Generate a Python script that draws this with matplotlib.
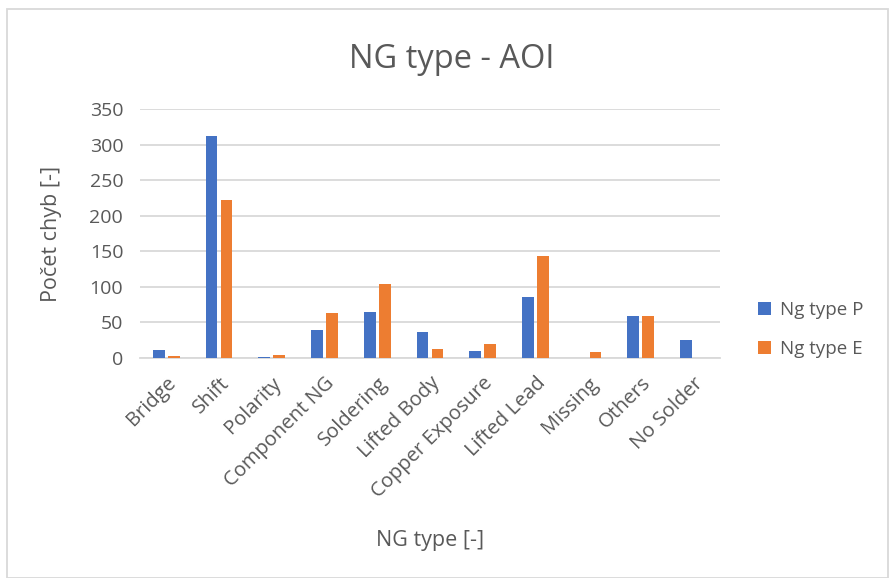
import matplotlib.pyplot as plt
import numpy as np
from matplotlib.patches import Rectangle

# data
categories = ["Bridge", "Shift", "Polarity", "Component NG", "Soldering",
              "Lifted Body", "Copper Exposure", "Lifted Lead", "Missing",
              "Others", "No Solder"]
ng_type_p = [11, 312, 1, 39, 65, 36, 10, 86, 0, 59, 25]
ng_type_e = [3, 222, 4, 63, 104, 13, 19, 143, 9, 59, 0]

plt.rcParams['font.family'] = ['Open Sans', 'DejaVu Sans']
gray = "#595959"
grid = "#D9D9D9"

fig = plt.figure(figsize=(8.91, 5.78), dpi=100)
ax = fig.add_axes([0.157, 0.3806, 0.651, 0.4308])

x = np.arange(len(categories))
w = 0.222
off = 0.1425
ax.bar(x - off, ng_type_p, w, color="#4472C4", label="Ng type P", zorder=3)
ax.bar(x + off, ng_type_e, w, color="#ED7D31", label="Ng type E", zorder=3)

ax.set_xlim(-0.5, len(categories) - 0.5)
ax.set_ylim(0, 350)
ax.set_yticks(range(0, 351, 50))
ax.yaxis.grid(True, color=grid, linewidth=1.3, zorder=0)
ax.set_xticks(x)
ax.set_xticklabels(categories, rotation=45, ha='right', rotation_mode='anchor')
ax.tick_params(length=0, labelsize=14, colors=gray)
ax.tick_params(axis='x', labelsize=14.5, pad=11)
ax.tick_params(axis='y', pad=12)
for s in ["top", "right", "left"]:
    ax.spines[s].set_visible(False)
ax.spines["bottom"].set_color(grid)
ax.spines["bottom"].set_linewidth(1.3)

ax.set_ylabel("Počet chyb [-]", fontsize=15.5, color=gray)
ax.yaxis.set_label_coords(-0.135, 0.5)
ax.set_xlabel("NG type [-]", fontsize=15.5, color=gray)
ax.xaxis.set_label_coords(0.5, -0.69)

fig.text(0.507, 0.897, "NG type - AOI", fontsize=23.5, color=gray, ha='center', va='center')

leg = ax.legend(loc='center left', bbox_to_anchor=(0.832, 0.43), bbox_transform=fig.transFigure,
                frameon=False, fontsize=13.5, handlelength=0.7, handleheight=0.7,
                handletextpad=0.45, labelspacing=1.15)
for t in leg.get_texts():
    t.set_color(gray)

fig.patches.append(Rectangle((7 / 891, 0), 881 / 891, 1 - 9 / 578, transform=fig.transFigure,
                             fill=False, edgecolor=grid, linewidth=1.3))

fig.savefig("out.png", dpi=100)
